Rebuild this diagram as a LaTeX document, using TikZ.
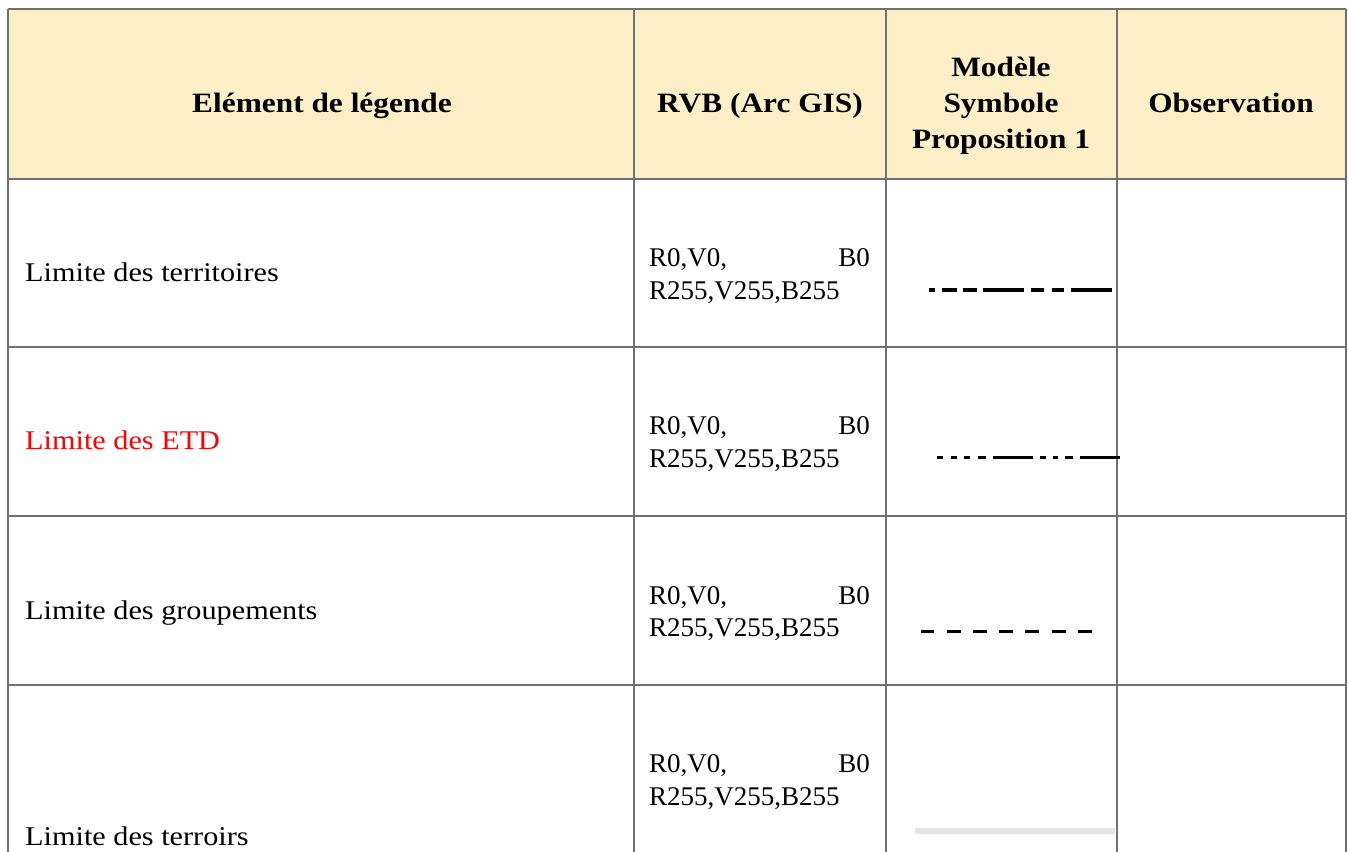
\documentclass[tikz,border=0pt]{standalone}
\usepackage{fontspec}
\setmainfont{Liberation Serif}
\newfontfamily\gar{Liberation Serif}[FakeStretch=1.12]
\definecolor{hdr}{RGB}{252,239,199}
\definecolor{grid}{RGB}{112,112,112}
\definecolor{lightln}{RGB}{228,228,228}
\begin{document}
\begin{tikzpicture}[x=1pt,y=-1pt,
  hd/.style={font=\gar\fontsize{28}{35.5}\selectfont\bfseries, inner sep=0pt, align=center},
  lbl/.style={font=\gar\fontsize{27}{33}\selectfont, inner sep=0pt, anchor=base west},
  rgb/.style={font=\fontsize{27}{33}\selectfont, inner sep=0pt},
  gridln/.style={draw=grid, line width=2pt},
  sym/.style={line width=#1, line cap=butt},
]
\useasboundingbox (0,0) rectangle (1348,851);
\begin{scope}
\clip (0,0) rectangle (1348,851);
% header fill
\fill[hdr] (8,9) rectangle (1346,179);
% grid
\draw[gridln] (8,9) -- (1346,9);
\foreach \y in {179,347,516,685} \draw[gridln] (8,\y) -- (1346,\y);
\foreach \x in {8,634,886,1117,1346} \draw[gridln] (\x,9) -- (\x,860);
\end{scope}
% header texts
\node[hd, anchor=base] (h1) at (322,112) {Elément de légende};
\node[hd, anchor=base] (h2) at (760,112) {RVB (Arc GIS)};
\node[hd, anchor=base] (h3a) at (1001,77) {Modèle};
\node[hd, anchor=base] (h3b) at (1001,112) {Symbole};
\node[hd, anchor=base] (h3c) at (1001,148) {Proposition 1};
\node[hd, anchor=base] (h4) at (1231,112) {Observation};
% labels
\node[lbl] (l1) at (25,281) {Limite des territoires};
\node[lbl, text=red] (l2) at (25,449) {Limite des ETD};
\node[lbl] (l3) at (25,619) {Limite des groupements};
\node[lbl] (l4) at (25,845) {Limite des terroirs};
% rgb values
\foreach \r/\a/\b in {1/266/299, 2/434/467, 3/604/636, 4/772/805}{
  \node[rgb, anchor=base west] (ra\r) at (649,\a) {R0,V0,};
  \node[rgb, anchor=base east] (rb\r) at (870,\a) {B0};
  \node[rgb, anchor=base west] (rc\r) at (649,\b) {R255,V255,B255};
}
% symbol row 1
\foreach \s/\e in {929/935, 942/957, 963/977, 983/1024, 1031/1044, 1052/1064, 1071/1112}
  \draw[sym=4pt] (\s,290) -- (\e,290);
% symbol row 2
\foreach \s/\e in {937/943, 951/957, 964/970, 978/986, 993/1033, 1040/1046, 1053/1058, 1065/1073, 1080/1120}
  \draw[sym=3pt] (\s,457) -- (\e,457);
% symbol row 3
\foreach \s/\e in {921/934, 947/961, 973/987, 999/1013, 1025/1039, 1052/1066, 1078/1092}
  \draw[sym=3pt] (\s,631) -- (\e,631);
% symbol row 4
\draw[sym=6pt, lightln] (915,831) -- (1115,831);
\end{tikzpicture}
\end{document}
